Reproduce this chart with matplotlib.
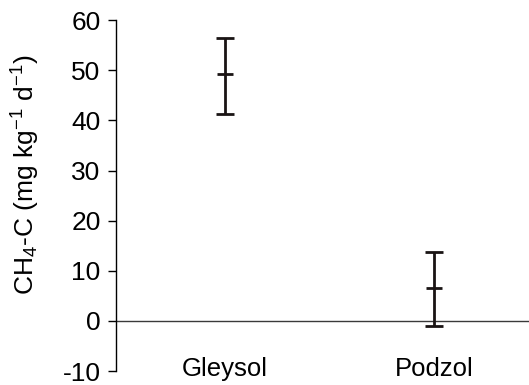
import numpy as np
import matplotlib
matplotlib.use("Agg")
import matplotlib.pyplot as plt

plt.rcParams['font.family'] = ['Liberation Sans', 'DejaVu Sans']
plt.rcParams['mathtext.fontset'] = 'custom'
plt.rcParams['mathtext.rm'] = 'Liberation Sans'
plt.rcParams['mathtext.it'] = 'Liberation Sans'
plt.rcParams['axes.unicode_minus'] = False

# data
soils = ["Gleysol", "Podzol"]
mean = np.array([49.2, 6.5])
upper = np.array([56.5, 13.8])
lower = np.array([41.2, -1.0])

x = np.arange(len(soils))
err = np.array([mean - lower, upper - mean])

fig = plt.figure(figsize=(5.29, 3.85), dpi=100)
ax = fig.add_axes([0.219, 0.036, 0.781, 0.912])

ax.axhline(0, color="#3a3a3a", lw=1.0, zorder=1)
ax.errorbar(x, mean, yerr=err, fmt="_", color="#1a1414", ms=11.5, mew=2.0,
            elinewidth=2.0, capsize=6.5, capthick=2.0, zorder=3)

for xi, name in zip(x, soils):
    ax.text(xi, -9.6, name, ha="center", va="center", fontsize=18.5)

ax.set_xlim(-0.52, 1.455)
ax.set_ylim(-10, 60)
ax.set_yticks(np.arange(-10, 61, 10))
ax.set_xticks([])
for s in ["top", "right", "bottom"]:
    ax.spines[s].set_visible(False)
ax.spines["left"].set_linewidth(1.0)
ax.tick_params(axis="y", direction="out", length=6, width=1.0, pad=5, labelsize=19)
ax.set_ylabel("CH$_4$-C (mg kg$^{-1}$ d$^{-1}$)", fontsize=19)
ax.yaxis.set_label_coords(-0.179, 0.56)

fig.savefig("out.png", dpi=100)
